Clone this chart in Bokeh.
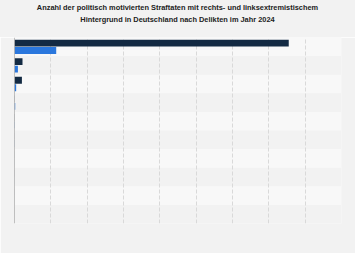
from bokeh.plotting import figure
from bokeh.models import Range1d, FactorRange, ColumnDataSource, Span, Div
from bokeh.layouts import column
from bokeh.transform import dodge
from bokeh.embed import file_html
from bokeh.resources import INLINE

categories = ["Straftaten insgesamt", "Gewalttaten", "Körperverletzungen", "Brandstiftungen",
              "Landfriedensbruch", "Gefährliche Eingriffe", "Freiheitsberaubung", "Raub",
              "Erpressung", "Tötungsdelikte"]
rechts = [37740, 1100, 1020, 25, 20, 8, 6, 10, 4, 3]
links = [5740, 470, 230, 100, 40, 20, 4, 6, 2, 1]
band_rows = categories[0::2]
title_lines = ["Anzahl der politisch motivierten Straftaten mit rechts- und linksextremistischem",
               "Hintergrund in Deutschland nach Delikten im Jahr 2024"]

src = ColumnDataSource(dict(cat=categories, rechts=rechts, links=links))
bands = ColumnDataSource(dict(cat=band_rows, left=[0] * len(band_rows), right=[45000] * len(band_rows)))

p = figure(width=355, height=216, output_backend="svg", toolbar_location=None,
           x_range=Range1d(0, 45000), y_range=FactorRange(*categories[::-1]),
           min_border_left=14, min_border_right=14, min_border_top=0, min_border_bottom=30)
p.background_fill_color = "#f2f2f2"
p.border_fill_color = "#f2f2f2"
p.outline_line_color = None

p.hbar(y="cat", left="left", right="right", height=1, source=bands,
       fill_color="#f8f8f8", line_color=None, level="underlay")

p.hbar(y=dodge("cat", 0.2, range=p.y_range), left=0, right="rechts", height=0.37,
       source=src, fill_color="#132a43", line_color=None)
p.hbar(y=dodge("cat", -0.2, range=p.y_range), left=0, right="links", height=0.37,
       source=src, fill_color="#2a77dd", line_color=None)

p.xaxis.visible = False
p.yaxis.visible = False
p.ygrid.grid_line_color = None
p.xgrid.grid_line_color = "#d9d9d9"
p.xgrid.grid_line_dash = "4 2"
p.xgrid.ticker = [0, 5000, 10000, 15000, 20000, 25000, 30000, 35000, 40000, 45000]
p.add_layout(Span(location=0, dimension="height", line_color="#8a8a8a", line_width=1))

title = Div(text="<br>".join(title_lines), width=355, height=37, margin=(0, 0, 0, 0),
            styles={"font-family": "Liberation Sans", "font-size": "7.4px", "font-weight": "bold",
                    "color": "#222222", "text-align": "center", "line-height": "12px",
                    "padding-top": "2px", "background-color": "#f2f2f2", "width": "355px",
                    "height": "37px", "box-sizing": "border-box"})

layout = column(title, p, spacing=0)
open("out.html", "w").write(file_html(layout, INLINE))
